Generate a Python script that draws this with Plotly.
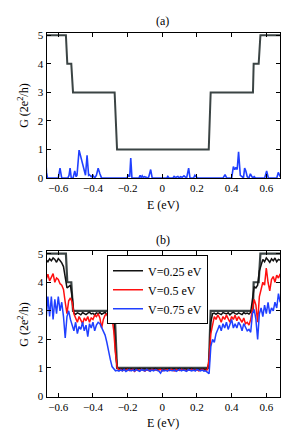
import numpy as np
import plotly.graph_objects as go

# ---- data ----
step_E = [-0.67, -0.556, -0.548, -0.525, -0.515, -0.275, -0.261, 0.268, 0.279, 0.523, 0.527, 0.556, 0.566, 0.68]
step_G = [5, 5, 4, 4, 3, 3, 1, 1, 3, 3, 4, 4, 5, 5]

a_E = [-0.670, -0.668, -0.662, -0.655, -0.600, -0.590, -0.580, -0.545, -0.538, -0.532, -0.525, -0.515, -0.505, -0.497,
       -0.492, -0.480, -0.465, -0.450, -0.443, -0.434, -0.425, -0.420, -0.410, -0.400, -0.390, -0.380, -0.370,
       -0.360, -0.350, -0.205, -0.195, -0.188, -0.182, -0.175, -0.135, -0.128, -0.122, -0.116, -0.110, -0.104,
       -0.080, -0.067, -0.058, 0.025, 0.032, 0.040, 0.060, 0.068, 0.076, 0.090, 0.098, 0.105, 0.115, 0.125,
       0.140, 0.152, 0.160, 0.180, 0.188, 0.196, 0.205, 0.350, 0.362, 0.372, 0.400, 0.410, 0.418, 0.425,
       0.432, 0.440, 0.450, 0.460, 0.468, 0.475, 0.482, 0.490, 0.500, 0.508, 0.514, 0.522, 0.530, 0.538, 0.548,
       0.590, 0.602, 0.612, 0.660, 0.669, 0.680]
a_G = [0.45, 0.20, 0.00, 0.00, 0.00, 0.35, 0.00, 0.00, 0.10, 0.35, 0.00, 0.00, 0.25, 0.05,
       0.10, 0.98, 0.60, 0.20, 0.10, 0.80, 0.10, 0.12, 0.05, 0.10, 0.00, 0.10, 0.35,
       0.15, 0.00, 0.00, 0.10, 0.05, 0.70, 0.00, 0.00, 0.10, 0.02, 0.08, 0.02, 0.05,
       0.00, 0.30, 0.00, 0.00, 0.06, 0.00, 0.00, 0.06, 0.02, 0.06, 0.00, 0.05, 0.03, 0.08,
       0.00, 0.35, 0.00, 0.00, 0.10, 0.04, 0.00, 0.00, 0.12, 0.00, 0.00, 0.40, 0.30, 0.38,
       0.30, 0.92, 0.10, 0.05, 0.00, 0.35, 0.25, 0.05, 0.00, 0.15, 0.10, 0.00, 0.05, 0.00, 0.00,
       0.00, 0.25, 0.00, 0.00, 0.20, 0.05]

E_b_start = -0.67
E_b_step = 0.01

G_V025 = [4.78, 4.72, 4.82, 4.75, 4.85, 4.80, 4.70, 4.83, 4.76, 4.68,
          4.55, 4.10, 3.80, 3.85, 3.90, 3.50, 2.92, 2.88, 2.93, 2.90,
          2.86, 2.94, 2.91, 2.87, 2.92, 2.95, 2.89, 2.91, 2.86, 2.93,
          2.90, 2.94, 2.88, 2.92, 2.95, 2.87, 2.91, 2.93, 2.89, 2.85,
          1.60, 1.00, 0.96, 0.97, 0.95, 0.97, 0.96, 0.98, 0.95, 0.97,
          0.96, 0.95, 0.97, 0.96, 0.98, 0.95, 0.96, 0.97, 0.95, 0.96,
          0.97, 0.95, 0.96, 0.98, 0.96, 0.95, 0.97, 0.96, 0.95, 0.97,
          0.96, 0.98, 0.95, 0.96, 0.97, 0.95, 0.96, 0.98, 0.96, 0.95,
          0.97, 0.96, 0.95, 0.97, 0.98, 0.96, 0.95, 0.97, 0.96, 0.95,
          0.97, 0.96, 0.95, 0.97, 1.20, 2.60, 2.90, 2.92, 2.88, 2.93,
          2.90, 2.87, 2.94, 2.91, 2.89, 2.93, 2.86, 2.92, 2.95, 2.90,
          2.88, 2.93, 2.91, 2.87, 2.94, 2.90, 2.92, 2.89, 2.95, 3.50,
          3.85, 3.80, 3.90, 4.40, 4.65, 4.80, 4.72, 4.85, 4.78, 4.70,
          4.82, 4.75, 4.85, 4.72, 4.80, 4.78]

G_V05 = [4.10, 4.28, 4.05, 4.20, 4.30, 4.00, 4.15, 4.10, 3.95, 3.90,
         3.75, 3.30, 2.90, 3.35, 3.45, 3.30, 2.90, 2.75, 2.60, 2.80,
         2.70, 2.55, 2.75, 2.65, 2.80, 2.60, 2.75, 2.70, 2.85, 2.80,
         2.90, 2.75, 2.40, 2.70, 2.85, 2.90, 2.70, 2.60, 2.75, 2.30,
         1.50, 1.00, 0.93, 0.95, 0.90, 0.94, 0.92, 0.96, 0.91, 0.93,
         0.95, 0.88, 0.93, 0.94, 0.91, 0.95, 0.92, 0.89, 0.94, 0.93,
         0.90, 0.95, 0.92, 0.94, 0.91, 0.93, 0.95, 0.90, 0.93, 0.92,
         0.94, 0.91, 0.95, 0.92, 0.90, 0.94, 0.93, 0.91, 0.95, 0.92,
         0.93, 0.90, 0.94, 0.92, 0.95, 0.91, 0.93, 0.94, 0.90, 0.93,
         0.95, 0.92, 0.91, 0.94, 1.30, 2.20, 2.55, 2.80, 2.70, 2.85,
         2.75, 2.60, 2.80, 2.70, 2.85, 2.75, 2.60, 2.80, 2.70, 2.85,
         2.65, 2.80, 2.70, 2.60, 2.75, 2.55, 2.60, 2.50, 2.70, 3.10,
         3.40, 3.20, 2.60, 3.50, 3.80, 4.00, 3.90, 4.50, 4.00, 3.70,
         4.10, 4.20, 4.00, 4.25, 4.15, 4.30]

G_V075 = [2.75, 3.50, 2.80, 3.50, 2.70, 3.40, 2.90, 3.50, 3.00, 3.30,
          2.80, 2.05, 2.80, 3.00, 2.70, 2.50, 2.30, 2.60, 2.20, 2.45,
          2.35, 2.60, 2.30, 2.50, 2.10, 2.55, 2.40, 2.60, 2.30, 2.50,
          2.60, 2.55, 2.40, 2.30, 2.15, 1.90, 1.55, 1.30, 1.05, 0.95,
          0.90, 0.92, 0.89, 0.93, 0.90, 0.95, 0.88, 0.92, 0.94, 0.90,
          0.93, 0.89, 0.95, 0.91, 0.88, 0.94, 0.92, 0.90, 0.95, 0.91,
          0.88, 0.93, 0.90, 0.94, 0.91, 0.89, 0.82, 0.93, 0.90, 0.92,
          0.89, 0.94, 0.91, 0.90, 0.93, 0.88, 0.92, 0.95, 0.90, 0.93,
          0.91, 0.88, 0.94, 0.92, 0.90, 0.93, 0.89, 0.95, 0.91, 0.90,
          0.93, 0.89, 0.90, 0.85, 0.80, 1.75, 2.00, 1.90, 2.20, 2.35,
          2.50, 2.30, 2.55, 2.40, 2.60, 2.35, 2.50, 2.70, 2.40, 2.55,
          2.40, 2.60, 2.50, 2.30, 2.55, 2.40, 2.30, 2.35, 2.25, 2.90,
          3.05, 2.70, 2.00, 2.90, 3.10, 2.80, 3.20, 2.90, 3.30, 2.90,
          3.10, 3.00, 3.30, 3.10, 3.60, 3.30]

legend_names = ["V=0.25 eV", "V=0.5 eV", "V=0.75 eV"]
x_ticks = [-0.6, -0.4, -0.2, 0, 0.2, 0.4, 0.6]
x_tick_text = ["\u22120.6", "\u22120.4", "\u22120.2", "0", "0.2", "0.4", "0.6"]
y_ticks = [0, 1, 2, 3, 4, 5]

# ---- figure ----
E_b = np.round(E_b_start + E_b_step * np.arange(len(G_V025)), 3)

STEP_COL = "#3b4444"
BLACK = "#111111"
RED = "#ff1010"
BLUE = "#2040ff"
FONT = "Liberation Serif, Times New Roman, serif"
FS = 11

fig = go.Figure()
fig.add_trace(go.Scatter(x=step_E, y=step_G, mode="lines", line=dict(color=STEP_COL, width=2),
                         showlegend=False, xaxis="x", yaxis="y"))
fig.add_trace(go.Scatter(x=a_E, y=a_G, mode="lines", line=dict(color=BLUE, width=1.6),
                         showlegend=False, xaxis="x", yaxis="y"))

fig.add_trace(go.Scatter(x=step_E, y=step_G, mode="lines", line=dict(color=STEP_COL, width=2.2),
                         showlegend=False, xaxis="x2", yaxis="y2"))
for g, name, col in zip([G_V025, G_V05, G_V075], legend_names, [BLACK, RED, BLUE]):
    fig.add_trace(go.Scatter(x=E_b, y=g, mode="lines", name=name, line=dict(color=col, width=1.5),
                             xaxis="x2", yaxis="y2"))

W, H = 300, 439
xl, xr = 38.5 / W, 272 / W
a_top, a_bot = 1 - 21.5 / H, 1 - 170 / H
b_top, b_bot = 1 - 245 / H, 1 - 393.5 / H

axis_common = dict(showline=True, linecolor="black", linewidth=1, mirror="ticks", ticks="inside",
                   ticklen=4, tickcolor="black", showgrid=False, zeroline=False,
                   tickfont=dict(family=FONT, size=FS, color="black"))
xa = dict(axis_common, range=[-0.668, 0.679], tickvals=x_ticks, ticktext=x_tick_text,
          domain=[xl, xr])
ya = dict(axis_common, range=[0, 5.08], tickvals=y_ticks)

fig.update_layout(
    width=W, height=H, margin=dict(l=0, r=0, t=0, b=0),
    paper_bgcolor="white", plot_bgcolor="white",
    font=dict(family=FONT, size=FS, color="black"),
    xaxis=dict(xa, anchor="y"),
    yaxis=dict(ya, domain=[a_bot, a_top], anchor="x"),
    xaxis2=dict(xa, anchor="y2"),
    yaxis2=dict(ya, domain=[b_bot, b_top], anchor="x2"),
    showlegend=True,
    legend=dict(x=99 / W, y=1 - 249 / H, xanchor="left", yanchor="top",
                bordercolor="black", borderwidth=1, bgcolor="white",
                tracegroupgap=0, itemwidth=30,
                font=dict(family=FONT, size=12, color="black")),
)

ann = []
for txt, xp, yp, ang in [("(a)", 154.5, 9, 0), ("(b)", 154.5, 233, 0),
                         ("E (eV)", 154.5, 197, 0), ("E (eV)", 154.5, 421, 0),
                         ("G (2e<sup>2</sup>/h)", 16, 96, -90), ("G (2e<sup>2</sup>/h)", 16, 320, -90)]:
    ann.append(dict(text=txt, x=xp / W, y=1 - yp / H, xref="paper", yref="paper",
                    showarrow=False, textangle=ang, xanchor="center", yanchor="middle",
                    font=dict(family=FONT, size=12, color="black")))
fig.update_layout(annotations=ann)

fig.write_html("out.html")
